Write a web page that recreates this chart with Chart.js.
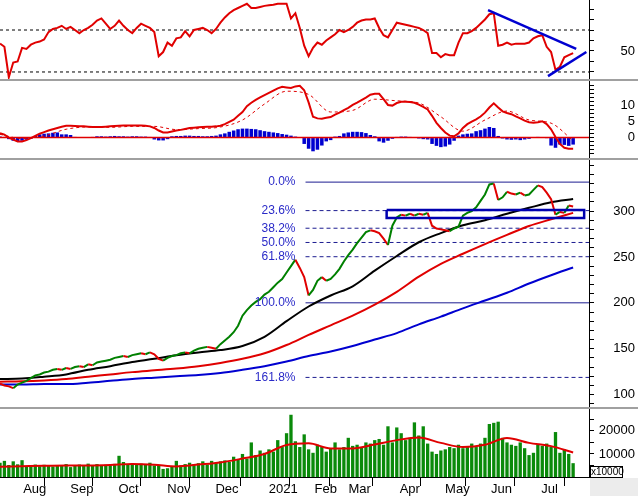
<!DOCTYPE html>
<html lang="en">
<head>
<meta charset="UTF-8">
<title>Price chart</title>
<script src="https://cdn.jsdelivr.net/npm/chart.js"></script>
<style>
    body { margin: 0; background: #fff; }
    #wrap { position: relative; width: 638px; height: 496px; overflow: hidden; font-family: "Liberation Sans", Arial, sans-serif; }
    .pane { position: absolute; left: 0; }
    .sep { position: absolute; left: 0; width: 638px; height: 2px; background: #a0a0a0; }
    #corner { position: absolute; left: 590px; top: 478px; width: 48px; height: 18px; background: #ececec; }
    #unit { position: absolute; left: 590px; top: 466px; width: 31px; height: 10px; border: 1px solid #000; background: #fff; font-size: 10px; line-height: 10px; text-align: center; }
</style>
</head>
<body>
<div id="wrap">
    <canvas id="rsiChart" class="pane" width="638" height="79" style="top:0"></canvas>
    <div class="sep" style="top:79px"></div>
    <canvas id="macdChart" class="pane" width="638" height="77" style="top:81px"></canvas>
    <div class="sep" style="top:158px"></div>
    <canvas id="priceChart" class="pane" width="638" height="247" style="top:160px"></canvas>
    <div class="sep" style="top:407px"></div>
    <canvas id="volChart" class="pane" width="638" height="87" style="top:409px"></canvas>
    <div id="corner"></div>
    <div id="unit">x10000</div>
</div>
<script>
    // one x unit = two trading sessions, mid-Jul 2020 .. late Jul 2021
    const monthTickAt = [4.8, 15.5, 26.4, 37.5, 48.4, 60.5, 70.9, 78.6, 90.2, 100.5, 110.9, 122.3];
    const monthNames = ['Aug', 'Sep', 'Oct', 'Nov', 'Dec', '2021', 'Feb', 'Mar', 'Apr', 'May', 'Jun', 'Jul'];

    // closing price
    const closePrice = [
        112, 110, 109, 107, 111, 113, 115, 118, 121, 122,
        124, 125, 127, 128, 127, 129, 128, 130, 131, 130,
        133, 132, 135, 136, 137, 138, 140, 141, 142, 141,
        143, 144, 145, 144, 146, 144, 139, 137, 140, 142,
        143, 145, 146, 145, 148, 150, 151, 152, 151, 150,
        155, 159, 163, 168, 175, 186, 192, 197, 201, 204,
        209, 212, 217, 222, 226, 233, 240, 247, 238, 228,
        208, 214, 224, 228, 224, 226, 231, 237, 245, 252,
        258, 265, 271, 277, 279, 278, 276, 270, 263, 284,
        293, 296, 295, 297, 295, 297, 296, 298, 284, 281,
        280, 279, 278, 281, 283, 295, 298, 300, 304, 311,
        318, 329, 330, 312, 315, 321, 319, 318, 320, 317,
        318, 323, 328, 326, 320, 313, 296, 299, 298, 306,
        305
    ];

    // moving averages, read every 5 units
    const maX = [0, 5, 10, 15, 20, 25, 30, 35, 40, 45, 50, 55, 60, 65, 70, 75, 80, 85, 90, 95, 100, 105, 110, 115, 120, 125, 130];
    const maShort = [117, 117.5, 119.5, 122, 127, 131, 135.5, 139, 143, 146, 148.5, 153, 163, 180, 196, 208, 218, 235, 251, 266, 276, 284.5, 290, 297, 303.5, 309.5, 313];
    const maMid = [114, 114.5, 115.5, 117, 119.5, 122, 124.5, 126.5, 128.5, 131, 134.5, 139, 145, 154, 165, 175.5, 186, 198, 212, 228.5, 242.5, 253.5, 264, 274, 283.7, 291, 298];
    const maLong = [111, 111, 111.5, 111.5, 113, 115, 117, 118.5, 120, 121.3, 123.5, 127, 131, 136, 142, 147, 153, 160, 167, 176.5, 185, 194, 202.5, 211, 221, 230, 238.5];

    // fibonacci retracement
    const fibNames = ['0.0%', '23.6%', '38.2%', '50.0%', '61.8%', '100.0%', '161.8%'];
    const fibRatios = [0, 0.236, 0.382, 0.5, 0.618, 1, 1.618];
    const swingHigh = 331.5;
    const swingLow = 200;
    const fibFrom = 69.3;

    // support box
    const boxX = [87.7, 132.5];
    const boxY = [292.5, 301];

    // RSI
    const rsi = [
        57, 54, 25, 39, 40, 53, 52, 56, 58, 59,
        61, 68, 71, 72, 74, 71, 73, 70, 67, 70,
        72, 75, 79, 81, 76, 71, 74, 79, 74, 70,
        67, 72, 76, 74, 72, 68, 45, 49, 58, 55,
        62, 63, 69, 64, 70, 71, 72, 70, 67, 71,
        77, 82, 86, 89, 91, 93, 95, 91, 91, 92,
        93, 93.5, 94, 95, 95, 95, 81, 86, 72, 55,
        45, 53, 58, 56, 60, 63, 66, 70, 68, 70,
        73, 77, 79, 80, 80, 81, 72, 65, 63, 70,
        77, 76, 75, 74, 73, 72, 70, 67, 48, 48,
        44, 47, 46, 46, 58, 67, 67, 69, 72, 76,
        80, 85, 86, 55, 56, 58, 56, 57, 57, 57,
        58, 62, 64, 65, 54, 49, 32, 35, 44, 46,
        48
    ];
    const rsiLevels = [30, 70];
    const rsiTrendHigh = [[110.7, 89], [130.7, 52]];
    const rsiTrendLow = [[124.3, 26], [133, 49]];

    // MACD
    const macd = [
        1.4, 0.9, 0.0, -0.6, -1.2, -1.2, -0.8, -0.2, 0.5, 1.2,
        1.7, 2.2, 2.6, 3.0, 3.4, 3.7, 3.7, 3.6, 3.5, 3.5,
        3.4, 3.3, 3.3, 3.3, 3.4, 3.5, 3.6, 3.7, 3.8, 3.8,
        3.8, 3.8, 3.8, 3.7, 3.5, 3.0, 2.2, 1.6, 1.6, 1.9,
        2.2, 2.4, 2.7, 3.0, 3.1, 3.2, 3.3, 3.4, 3.4, 3.5,
        3.7, 4.2, 4.9, 5.6, 6.8, 8.0, 9.8, 10.9, 11.8, 12.6,
        13.3, 14.0, 14.7, 15.4, 15.9, 15.7, 15.5, 16.0, 16.2, 14.8,
        11.0, 6.5, 6.0, 5.9, 6.2, 6.4, 7.2, 7.8, 8.6, 9.3,
        10.2, 10.9, 11.7, 12.5, 13.4, 13.7, 13.7, 12.0, 10.2, 10.0,
        10.8, 11.2, 11.2, 11.1, 10.9, 10.3, 9.6, 8.8, 6.8, 4.6,
        3.0, 1.6, 0.6, 0.4, 1.3, 3.0, 4.2, 5.0, 5.7, 6.6,
        7.8, 9.4, 10.7, 9.4, 8.2, 7.7, 7.3, 6.6, 6.0, 5.3,
        4.8, 4.6, 4.8, 5.1, 4.2, 2.6, 0.2, -2.0, -3.2, -3.5,
        -3.5
    ];
    const macdSignal = [1.0, -0.3, 0.5, 2.6, 3.3, 3.2, 3.5, 3.5, 2.5, 2.8, 3.3, 5.5, 10.5, 14.5, 13.5, 8.0, 8.5, 12.0, 11.5, 10.8, 6.5, 2.0, 5.5, 8.3, 5.5, 4.5, -1.0];
    const macdHist = [
        0.3, 0.2, -0.5, -1.0, -1.3, -1.0, -0.7, -0.4, 0.5, 1.0,
        1.2, 1.3, 1.5, 1.6, 1.0, 1.0, 0.8, 0.2, 0.1, 0,
        0.1, 0.2, 0.4, 0.4, 0.3, 0.4, 0.5, 0.4, 0.4, 0.3,
        0.4, 0.4, 0.3, 0.3, 0.2, -0.6, -0.9, -0.9, -0.5, 0.4,
        0.5, 0.5, 0.6, 0.6, 0.5, 0.5, 0.4, 0.4, 0.5, 0.6,
        1.0, 1.3, 1.8, 2.2, 2.6, 2.8, 2.8, 2.7, 2.6, 2.3,
        2.0, 1.8, 1.6, 1.4, 1.1, 0.9, 0.6, 0.3, 0, -2.0,
        -3.5, -4.3, -3.8, -2.5, -1.2, -0.8, 0.3, 0.5, 1.3, 1.6,
        1.8, 1.8, 1.7, 1.4, 0.8, 0.4, -1.2, -1.6, -1.0, -0.4,
        0.2, 0.3, 0.3, 0.2, 0.1, -0.3, -0.5, -0.6, -2.0, -2.6,
        -3.0, -2.8, -2.2, -1.0, 0.6, 1.0, 1.2, 1.3, 2.0, 2.3,
        2.8, 3.3, 3.0, 0.5, -0.3, -0.6, -0.7, -0.6, -0.8, -0.6,
        -0.4, 0.1, 0.2, 0.1, -0.2, -2.5, -3.2, -2.2, -2.3, -2.6,
        -2.2
    ];

    // volume (x10000)
    const volume = [
        6200, 7000, 5200, 6800, 5500, 7300, 4400, 5000, 5400, 4700,
        5300, 5000, 4600, 5200, 4900, 5600, 4300, 5000, 5400, 5000,
        5800, 5200, 5600, 4800, 5300, 5100, 5700, 9200, 6500, 5600,
        6000, 5200, 5800, 5400, 6200, 5000, 4800, 3500, 3800, 4500,
        7000, 5000, 5600, 6200, 5500, 6000, 6800, 5400, 7000, 6200,
        6800, 7200, 6500, 8800, 7500, 10000, 8000, 15000, 9500, 11500,
        10500, 12000, 11000, 16000, 13000, 19000, 27000, 15500, 13000, 18500,
        12000, 10500, 14000, 13000, 11000, 12500, 15000, 12000, 13000, 17000,
        13500, 14000, 13000, 15000, 14500, 16000, 16500, 14000, 22000, 15000,
        21500, 19000, 16000, 17000, 23700, 18000, 22000, 14500, 11000, 10000,
        11500, 12000, 13000, 12500, 14000, 12500, 13000, 14500, 13000, 14500,
        17000, 23000, 23500, 24000, 17000, 15000, 14000, 13500, 15000, 12500,
        9500, 10500, 14000, 13500, 14500, 13000, 19500, 10500, 12000, 10000,
        6000
    ];
    const volumeMA = [4500, 4700, 4900, 5000, 5000, 5200, 5600, 5300, 4600, 5400, 6300, 8000, 10000, 13900, 14600, 12400, 12400, 14100, 16000, 17100, 14800, 13000, 14000, 16900, 14800, 13400, 10600];

    const X_MAX = 133.6;
    const RED = '#e00000';
    const GREEN = '#008000';
    const BLUE = '#0000d0';
    const FIB = '#1c1c90';

    Chart.defaults.font.family = '"Liberation Sans", Arial, sans-serif';
    Chart.defaults.font.size = 13;
    Chart.defaults.color = '#000';

    const daily = arr => arr.map((v, i) => ({ x: i, y: v }));
    const sparse = arr => arr.map((v, k) => ({ x: maX[k], y: v }));
    const pairs = arr => arr.map(p => ({ x: p[0], y: p[1] }));
    const flat = v => [{ x: 0, y: v }, { x: X_MAX, y: v }];

    function yAxis(min, max, tickVals, labelVals) {
        return {
            type: 'linear', position: 'right', min: min, max: max,
            // fixed axis width, no label padding so the plot fills its pane
            afterFit: s => { s.width = 46; s.paddingTop = 0; s.paddingBottom = 0; },
            afterBuildTicks: s => { s.ticks = tickVals.map(v => ({ value: v })); },
            ticks: {
                padding: 2, crossAlign: 'far', autoSkip: false,
                callback: v => labelVals.includes(v) ? String(v) : ''
            },
            grid: { drawOnChartArea: false, drawTicks: true, tickLength: 5, color: '#000' },
            border: { display: true, color: '#000', width: 1 }
        };
    }

    function xAxis(show) {
        return {
            type: 'linear', min: 0, max: X_MAX, offset: false, display: show,
            afterFit: s => { if (show) { s.height = 19; } s.paddingLeft = 0; s.paddingRight = 0; },
            afterBuildTicks: s => { s.ticks = monthTickAt.map(v => ({ value: v })); },
            ticks: {
                autoSkip: false, maxRotation: 0, align: 'start', labelOffset: 2, padding: -4,
                callback: (v, i) => monthNames[i]
            },
            grid: { drawOnChartArea: false, drawTicks: true, tickLength: 9, color: '#000' },
            border: { display: true, color: '#000', width: 1 }
        };
    }

    function baseOptions(y, showX) {
        return {
            responsive: false,
            maintainAspectRatio: false,
            animation: false,
            layout: { padding: { left: 0, right: 3, top: 0, bottom: 0 } },
            plugins: { legend: { display: false }, tooltip: { enabled: false } },
            elements: { point: { radius: 0 } },
            scales: { x: xAxis(showX), y: y }
        };
    }

    function lineSet(data, color, width, extra) {
        return Object.assign({ type: 'line', data: data, borderColor: color, borderWidth: width, pointRadius: 0, fill: false, tension: 0 }, extra || {});
    }

    // RSI panel
    const rsiSets = [lineSet(daily(rsi), RED, 2, { order: 1 })];
    rsiLevels.forEach(l => rsiSets.push(lineSet(flat(l), '#000', 1, { borderDash: [3, 3], order: 3 })));
    rsiSets.push(lineSet(pairs(rsiTrendHigh), BLUE, 2.5, { order: 0 }));
    rsiSets.push(lineSet(pairs(rsiTrendLow), BLUE, 2.5, { order: 0 }));
    new Chart(document.getElementById('rsiChart'), {
        type: 'line',
        data: { datasets: rsiSets },
        options: baseOptions(yAxis(23.3, 98.6, [30, 40, 50, 60, 70, 80, 90], [50]), false)
    });

    // MACD panel
    const macdTicks = [];
    for (let v = -5; v <= 16.25; v += 1.25) macdTicks.push(v);
    new Chart(document.getElementById('macdChart'), {
        type: 'line',
        data: {
            datasets: [
                { type: 'bar', data: daily(macdHist), backgroundColor: BLUE, barPercentage: 0.8, categoryPercentage: 1, order: 3 },
                lineSet(flat(0), RED, 1.5, { order: 2 }),
                lineSet(sparse(macdSignal), RED, 1, { borderDash: [3, 3], cubicInterpolationMode: 'monotone', order: 1 }),
                lineSet(daily(macd), RED, 2, { order: 0 })
            ]
        },
        options: baseOptions(yAxis(-6.4, 17.7, macdTicks, [0, 5, 10]), false)
    });

    // price panel
    const fibLevels = fibRatios.map(r => swingHigh - r * (swingHigh - swingLow));
    const priceTicks = [];
    for (let v = 90; v <= 350; v += 10) priceTicks.push(v);
    const priceSets = [
        lineSet(daily(closePrice), GREEN, 2, {
            order: 1,
            segment: { borderColor: c => c.p1.parsed.y >= c.p0.parsed.y ? GREEN : RED }
        }),
        lineSet(sparse(maShort), '#000', 2, { cubicInterpolationMode: 'monotone', order: 2 }),
        lineSet(sparse(maMid), RED, 2, { cubicInterpolationMode: 'monotone', order: 2 }),
        lineSet(sparse(maLong), BLUE, 2, { cubicInterpolationMode: 'monotone', order: 2 })
    ];
    fibLevels.forEach((lv, k) => {
        const solid = fibRatios[k] === 0 || fibRatios[k] === 1;
        priceSets.push(lineSet([{ x: fibFrom, y: lv }, { x: X_MAX, y: lv }], FIB, 1, { borderDash: solid ? [] : [4, 3], order: 3 }));
    });
    priceSets.push(lineSet([
        { x: boxX[0], y: boxY[1] }, { x: boxX[1], y: boxY[1] },
        { x: boxX[1], y: boxY[0] }, { x: boxX[0], y: boxY[0] }, { x: boxX[0], y: boxY[1] }
    ], '#0000b0', 2.5, { order: 0 }));

    const fibLabels = {
        id: 'fibLabels',
        afterDatasetsDraw(chart) {
            const ctx = chart.ctx;
            const xs = chart.scales.x, ys = chart.scales.y;
            ctx.save();
            ctx.font = '12px "Liberation Sans", Arial, sans-serif';
            ctx.fillStyle = '#2a2ac8';
            ctx.textAlign = 'right';
            ctx.textBaseline = 'middle';
            fibLevels.forEach((lv, k) => {
                ctx.fillText(fibNames[k], xs.getPixelForValue(fibFrom) - 10, ys.getPixelForValue(lv));
            });
            ctx.restore();
        }
    };

    new Chart(document.getElementById('priceChart'), {
        type: 'line',
        data: { datasets: priceSets },
        options: baseOptions(yAxis(86.5, 355.6, priceTicks, [100, 150, 200, 250, 300]), false),
        plugins: [fibLabels]
    });

    // volume panel
    new Chart(document.getElementById('volChart'), {
        type: 'line',
        data: {
            datasets: [
                { type: 'bar', data: daily(volume), backgroundColor: '#0a8a0a', barPercentage: 0.75, categoryPercentage: 1, order: 2 },
                lineSet(sparse(volumeMA), RED, 2, { cubicInterpolationMode: 'monotone', order: 1 })
            ]
        },
        options: baseOptions(yAxis(0, 29500, [5000, 10000, 15000, 20000, 25000], [10000, 20000]), true)
    });
</script>
</body>
</html>
